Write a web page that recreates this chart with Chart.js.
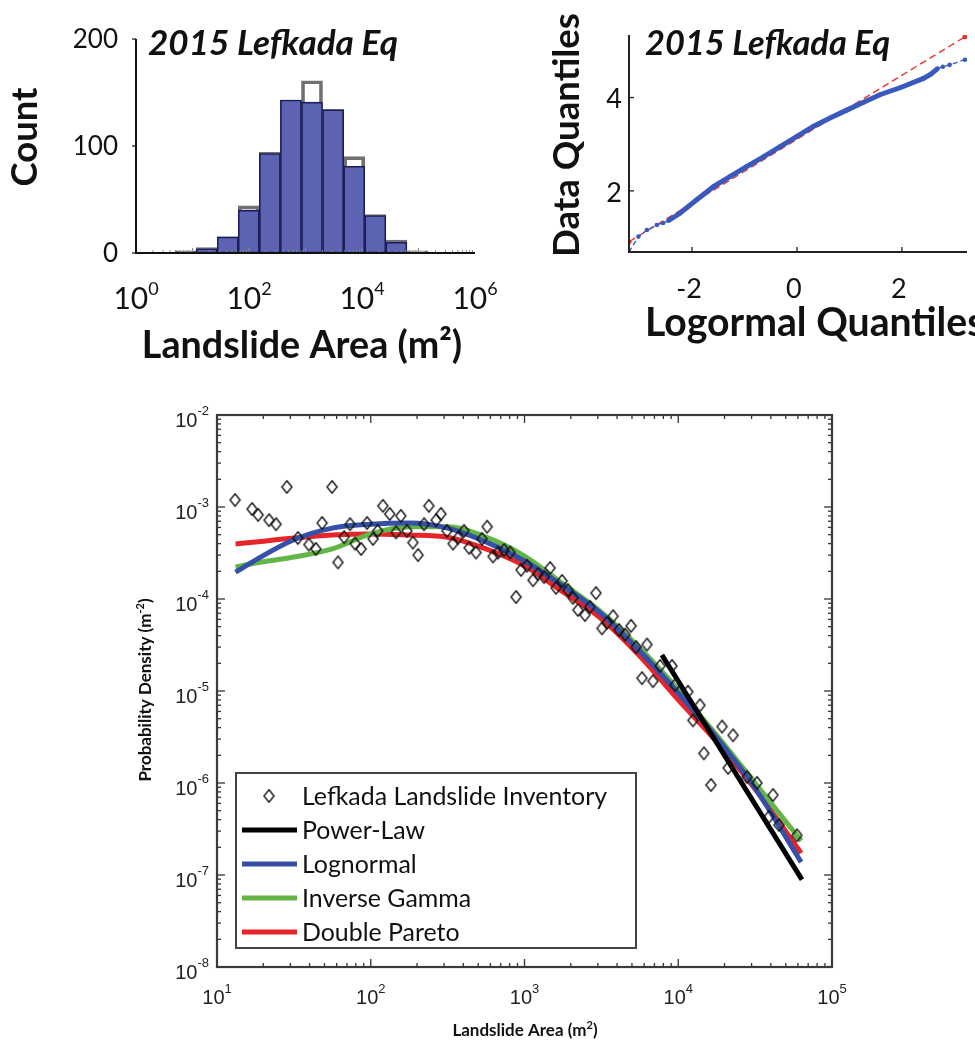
<!DOCTYPE html>
<html>
<head>
<meta charset="utf-8">
<script src="https://cdn.jsdelivr.net/npm/chart.js@4.4.1/dist/chart.umd.min.js"></script>
<style>
  html,body{margin:0;padding:0;background:#fff;}
  #page{position:relative;width:975px;height:1049px;overflow:hidden;background:#fff;}
  canvas{position:absolute;}
</style>
</head>
<body>
<div id="page">
  <canvas id="chartHist" width="500" height="380" style="left:0;top:0"></canvas>
  <canvas id="chartQQ" width="475" height="380" style="left:500px;top:0"></canvas>
  <canvas id="chartPdf" width="975" height="669" style="left:0;top:380px"></canvas>
</div>
<script>
// ---- histogram (bin centres in m², counts) ----
const HIST_AREA = [7.55, 17.8, 42.1, 99.1, 234, 552, 1303, 3083, 7278, 17180, 40550, 95500];
const HIST_COUNT = [1, 4, 15, 40, 93, 143, 141, 134, 81, 35, 10, 0];
const HIST_COUNT_ALT = [2, 5, 15, 44, 94, 143, 161, 134, 90, 36, 12, 2];
const HIST_Y_TICKS = [0, 100, 200];
const HIST_X_EXPS = [0, 2, 4, 6];

// ---- QQ plot ----
const QQ_NORM = [-3.20,-3.02,-2.86,-2.67,-2.55,-2.45,-2.23,-1.91,-1.59,-1.27,-0.96,-0.64,-0.32,0.0,0.31,0.63,0.95,1.27,1.58,1.99,2.41,2.55,2.68,2.78,2.91,3.20];
const QQ_DATA = [0.69,1.02,1.16,1.27,1.31,1.36,1.52,1.81,2.09,2.31,2.52,2.73,2.95,3.17,3.38,3.56,3.73,3.90,4.06,4.22,4.41,4.50,4.62,4.66,4.70,4.81];
const QQ_REF_X = [-3.20, 3.20];
const QQ_REF_Y = [0.91, 5.30];
const QQ_X_TICKS = [-2, 0, 2];
const QQ_Y_TICKS = [2, 4];

// ---- probability density (m², m⁻²) ----
const INV_AREA = [13.1,16.9,18.5,21.8,24.2,28.5,33.6,39.6,44.0,48.2,56.0,61.2,67.0,73.3,79.0,86.5,94.6,103.5,111,120,
  133,146,157,172,188,203,222,239,266,286,313,343,369,404,436,484,529,571,624,673,
  736,805,881,949,1038,1136,1224,1340,1466,1603,1754,1918,2067,2228,2473,2665,2917,3190,3440,3765,
  4120,4508,4932,5312,5810,6260,6850,7610,9100,9530,11560,12470,13840,14690,16320,19270,21090,22720,27980,32510,
  38900,41300,45200,59200];
const INV_PDF = [1.19e-3,9.5e-4,8.2e-4,7.2e-4,6.5e-4,1.65e-3,4.6e-4,3.9e-4,3.5e-4,6.7e-4,
  1.65e-3,2.5e-4,4.7e-4,6.5e-4,4.0e-4,3.5e-4,6.7e-4,4.5e-4,5.5e-4,1.03e-3,
  8.4e-4,5.3e-4,8.0e-4,5.5e-4,4.1e-4,3.0e-4,6.5e-4,1.03e-3,7.2e-4,8.4e-4,
  5.5e-4,4.0e-4,4.6e-4,5.5e-4,3.6e-4,3.2e-4,4.5e-4,6.1e-4,2.9e-4,3.2e-4,
  3.4e-4,3.2e-4,1.05e-4,2.07e-4,2.3e-4,1.6e-4,1.87e-4,1.73e-4,2.17e-4,1.32e-4,
  1.57e-4,1.25e-4,1.03e-4,7.6e-5,6.7e-5,8.2e-5,1.16e-4,4.8e-5,5.5e-5,6.5e-5,
  4.6e-5,4.1e-5,5.1e-5,3.0e-5,1.38e-5,3.2e-5,1.28e-5,1.87e-5,1.87e-5,1.16e-5,
  9.8e-6,4.8e-6,7.0e-6,2.1e-6,9.5e-7,4.1e-6,1.46e-6,3.3e-6,1.16e-6,1.0e-6,
  4.3e-7,7.4e-7,3.5e-7,2.7e-7];
const FIT_AREA = [13.2,17.8,31.6,56.2,100,178,316,562,1000,1780,3160,5620,10000,17800,31600,63000];
const FIT_LOGNORMAL = [1.96e-4,2.65e-4,4.4e-4,5.9e-4,6.5e-4,6.7e-4,5.9e-4,4.17e-4,2.59e-4,1.38e-4,6.9e-5,2.72e-5,9.5e-6,3.1e-6,8.8e-7,1.38e-7];
const FIT_INVGAMMA = [2.23e-4,2.46e-4,2.86e-4,3.5e-4,5.1e-4,6.1e-4,6.1e-4,4.7e-4,2.93e-4,1.46e-4,7.2e-5,2.93e-5,1.03e-5,3.3e-6,1.0e-6,2.35e-7];
const FIT_DPARETO = [3.96e-4,4.17e-4,4.6e-4,4.96e-4,5.1e-4,4.96e-4,4.7e-4,3.5e-4,2.29e-4,1.19e-4,6.1e-5,2.4e-5,8.0e-6,2.8e-6,8.6e-7,1.73e-7];
const POWER_AREA = [7830, 63800];
const POWER_PDF = [2.46e-5, 8.9e-8];
const PDF_X_EXPS = [1, 2, 3, 4, 5];
const PDF_Y_EXPS = [-8, -7, -6, -5, -4, -3, -2];

const C = { histFill:"#5c63b3", histEdge:"#1b1d57", histGray:"#707070", qqBlue:"#3a59bd", qqRed:"#e8332a",
  black:"#000", blue:"#3450a8", green:"#63b546", red:"#e5252a", axis:"#333", ink:"#111" };
const SANS = "Lato, 'Open Sans', sans-serif";
const ARIAL = "'Liberation Sans', Arial, sans-serif";

const pts = (xs, ys) => xs.map((x,i)=>({ x, y: ys[i] }));

function fitFont(ctx, text, style, family, width){
  ctx.font = `${style} 100px ${family}`;
  const s = 100 * width / ctx.measureText(text).width;
  ctx.font = `${style} ${s.toFixed(1)}px ${family}`;
}
// parts: [text, font, dy]
function richText(ctx, parts, x, y, align){
  let w = 0;
  parts.forEach(p=>{ ctx.font = p[1]; w += ctx.measureText(p[0]).width; });
  let cx = align==="center" ? x - w/2 : align==="right" ? x - w : x;
  ctx.textAlign = "left"; ctx.textBaseline = "alphabetic";
  parts.forEach(p=>{ ctx.font = p[1]; ctx.fillText(p[0], cx, y + (p[2]||0)); cx += ctx.measureText(p[0]).width; });
}
function seg(ctx, x1, y1, x2, y2){ ctx.beginPath(); ctx.moveTo(x1,y1); ctx.lineTo(x2,y2); ctx.stroke(); }
function rotatedText(ctx, text, x, y){
  ctx.save(); ctx.translate(x, y); ctx.rotate(-Math.PI/2);
  ctx.textAlign = "center"; ctx.textBaseline = "middle"; ctx.fillText(text, 0, 0); ctx.restore();
}
function diamondMarker(w, h, color, lw){
  const c = document.createElement("canvas");
  c.width = Math.ceil(w + 2*lw); c.height = Math.ceil(h + 2*lw);
  const g = c.getContext("2d"), cx = c.width/2, cy = c.height/2;
  g.strokeStyle = color; g.lineWidth = lw;
  g.beginPath(); g.moveTo(cx, cy-h/2); g.lineTo(cx+w/2, cy); g.lineTo(cx, cy+h/2); g.lineTo(cx-w/2, cy); g.closePath(); g.stroke();
  return c;
}

const baseOpts = { responsive:false, animation:false, plugins:{ legend:{ display:false }, tooltip:{ enabled:false } } };

// ---------------- histogram ----------------
const histDecor = {
  id:"histDecor",
  afterDatasetsDraw(chart){
    const { ctx, chartArea:a, scales:{ x, y } } = chart;
    ctx.save();
    ctx.strokeStyle = "#888"; ctx.lineWidth = 1;
    for(let e=0;e<6;e++) for(let m=1;m<=9;m++){
      const px = x.getPixelForValue(m*10**e);
      seg(ctx, px, a.bottom, px, a.bottom-(m===1?5:3));
    }
    ctx.strokeStyle = "#111"; ctx.lineWidth = 2;
    seg(ctx, a.left, a.top, a.left, a.bottom+1);
    seg(ctx, a.left-1, a.bottom, a.right, a.bottom);
    ctx.lineWidth = 1.2;
    HIST_Y_TICKS.forEach(v=>{ const py = y.getPixelForValue(v); seg(ctx, a.left-4, py, a.left, py); });
    ctx.fillStyle = C.ink;
    ctx.font = `26px ${SANS}`; ctx.textAlign = "right"; ctx.textBaseline = "middle";
    HIST_Y_TICKS.forEach(v=> ctx.fillText(String(v), 118, y.getPixelForValue(v)+1));
    HIST_X_EXPS.forEach(e=> richText(ctx, [["10", `30px ${SANS}`], [String(e), `18px ${SANS}`, -14]], x.getPixelForValue(10**e), 309, "center"));
    fitFont(ctx, "2015 Lefkada Eq", "italic bold", SANS, 250);
    ctx.textAlign = "left"; ctx.textBaseline = "alphabetic"; ctx.fillText("2015 Lefkada Eq", 148, 55);
    fitFont(ctx, "Count", "bold", SANS, 99);
    rotatedText(ctx, "Count", 25, 137);
    fitFont(ctx, "Landslide Area (m²)", "bold", SANS, 320);
    ctx.textAlign = "center"; ctx.textBaseline = "alphabetic"; ctx.fillText("Landslide Area (m²)", 302, 358);
    ctx.restore();
  }
};
const histBarW = 339 * Math.log10(HIST_AREA[1]/HIST_AREA[0]) / 6;
new Chart(document.getElementById("chartHist"), {
  type:"bar",
  data:{ datasets:[
    { label:"Lefkada", data:pts(HIST_AREA, HIST_COUNT), backgroundColor:C.histFill, borderColor:C.histEdge, borderWidth:1.6,
      borderSkipped:false, grouped:false, barThickness:histBarW },
    { label:"Comparison", data:pts(HIST_AREA, HIST_COUNT_ALT), backgroundColor:"rgba(0,0,0,0)", borderColor:C.histGray, borderWidth:3,
      borderSkipped:false, grouped:false, barThickness:histBarW },
  ]},
  options:{ ...baseOpts, layout:{ padding:{ left:136, right:25, top:39, bottom:127 } },
    scales:{ x:{ type:"logarithmic", min:1, max:1e6, display:false }, y:{ min:0, max:200, display:false } } },
  plugins:[histDecor]
});

// ---------------- QQ plot ----------------
const qqDecor = {
  id:"qqDecor",
  afterDatasetsDraw(chart){
    const { ctx, chartArea:a, scales:{ x, y } } = chart;
    ctx.save();
    ctx.strokeStyle = "#222"; ctx.lineWidth = 2;
    seg(ctx, a.left, a.top, a.left, a.bottom+1);
    seg(ctx, a.left-1, a.bottom, a.right, a.bottom);
    ctx.lineWidth = 1.3;
    QQ_X_TICKS.forEach(v=>{ const px = x.getPixelForValue(v); seg(ctx, px, a.bottom, px, a.bottom-5); });
    QQ_Y_TICKS.forEach(v=>{ const py = y.getPixelForValue(v); seg(ctx, a.left, py, a.left+5, py); });
    ctx.fillStyle = C.ink; ctx.font = `27px ${SANS}`;
    ctx.textAlign = "right"; ctx.textBaseline = "middle";
    QQ_Y_TICKS.forEach(v=> ctx.fillText(String(v), 122, y.getPixelForValue(v)+2));
    ctx.textAlign = "center";
    QQ_X_TICKS.forEach(v=> ctx.fillText(v<0 ? "-"+Math.abs(v) : String(v), x.getPixelForValue(v)-3, 289));
    fitFont(ctx, "2015 Lefkada Eq", "italic bold", SANS, 245);
    ctx.textAlign = "left"; ctx.textBaseline = "alphabetic"; ctx.fillText("2015 Lefkada Eq", 145, 55);
    fitFont(ctx, "Data Quantiles", "bold", SANS, 244);
    rotatedText(ctx, "Data Quantiles", 67, 135);
    fitFont(ctx, "Logormal Quantiles", "bold", SANS, 340);
    ctx.textAlign = "left"; ctx.textBaseline = "alphabetic"; ctx.fillText("Logormal Quantiles", 145, 336);
    ctx.restore();
  }
};
const thinEnd = c => (c.p0.parsed.x < -2.5 || c.p1.parsed.x > 2.7);
new Chart(document.getElementById("chartQQ"), {
  type:"line",
  data:{ datasets:[
    { label:"Data", data:pts(QQ_NORM, QQ_DATA), borderColor:C.qqBlue, backgroundColor:C.qqBlue, borderWidth:5,
      pointRadius:2.3, pointBorderWidth:0, tension:0,
      segment:{ borderWidth:c=> thinEnd(c) ? 1.3 : 5, borderDash:c=> thinEnd(c) ? [5,3] : undefined } },
    { label:"Reference", data:pts(QQ_REF_X, QQ_REF_Y), borderColor:C.qqRed, backgroundColor:C.qqRed, borderWidth:1.4,
      borderDash:[7,4], pointRadius:2.5, pointBorderWidth:0 },
  ]},
  options:{ ...baseOpts, layout:{ padding:{ left:129, right:8, top:35, bottom:128 } },
    scales:{ x:{ type:"linear", min:-3.2, max:3.24, display:false }, y:{ type:"linear", min:0.69, max:5.34, display:false } } },
  plugins:[qqDecor]
});

// ---------------- probability density ----------------
const diamond = diamondMarker(10, 12.5, C.ink, 1.4);
const pdfDecor = {
  id:"pdfDecor",
  afterDatasetsDraw(chart){
    const { ctx, chartArea:a, scales:{ x, y } } = chart;
    ctx.save();
    ctx.strokeStyle = C.axis; ctx.lineWidth = 1.3;
    for(let e=PDF_X_EXPS[0]; e<PDF_X_EXPS[PDF_X_EXPS.length-1]; e++) for(let m=1;m<=9;m++){
      const px = x.getPixelForValue(m*10**e), len = m===1 ? 8 : 4;
      seg(ctx, px, a.bottom, px, a.bottom-len); seg(ctx, px, a.top, px, a.top+len);
    }
    for(let e=PDF_Y_EXPS[0]; e<PDF_Y_EXPS[PDF_Y_EXPS.length-1]; e++) for(let m=1;m<=9;m++){
      const py = y.getPixelForValue(m*10**e), len = m===1 ? 8 : 4;
      seg(ctx, a.left, py, a.left+len, py); seg(ctx, a.right, py, a.right-len, py);
    }
    ctx.lineWidth = 2.2; ctx.strokeStyle = "#3a3a3a";
    ctx.strokeRect(a.left, a.top, a.right-a.left, a.bottom-a.top);

    ctx.fillStyle = "#222";
    PDF_Y_EXPS.forEach(e=> richText(ctx, [["10", `20px ${ARIAL}`], [String(e), `13px ${ARIAL}`, -12]], 209, y.getPixelForValue(10**e)+12, "right"));
    PDF_X_EXPS.forEach(e=> richText(ctx, [["10", `20px ${ARIAL}`], [String(e), `13px ${ARIAL}`, -11]], x.getPixelForValue(10**e), 624, "center"));

    ctx.fillStyle = C.ink;
    const tb = `bold 17px ${SANS}`, ts = `bold 11px ${SANS}`;
    richText(ctx, [["Landslide Area (m", tb], ["2", ts, -7], [")", tb]], 525, 656, "center");
    ctx.save(); ctx.translate(151, 310); ctx.rotate(-Math.PI/2);
    richText(ctx, [["Probability Density (m", tb], ["-2", ts, -7], [")", tb]], 0, 0, "center");
    ctx.restore();

    // legend box
    const L = { x:236, y:393, w:400, h:175 };
    ctx.fillStyle = "#fff"; ctx.fillRect(L.x, L.y, L.w, L.h);
    ctx.strokeStyle = "#444"; ctx.lineWidth = 2; ctx.strokeRect(L.x, L.y, L.w, L.h);
    fitFont(ctx, chart.data.datasets[0].label, "normal", SANS, 305);
    const lf = ctx.font;
    chart.data.datasets.forEach((ds, i)=>{
      const cy = L.y + 23 + i*34;
      if(i===0){ ctx.drawImage(diamond, 269-diamond.width/2, cy-diamond.height/2); }
      else { ctx.strokeStyle = ds.borderColor; ctx.lineWidth = 5; seg(ctx, 242, cy, 297, cy); }
      ctx.fillStyle = C.ink; ctx.font = lf; ctx.textAlign = "left"; ctx.textBaseline = "middle";
      ctx.fillText(ds.label, 302, cy+1);
    });
    ctx.restore();
  }
};
const fitLine = (label, xs, ys, color) => ({ label, data:pts(xs, ys), borderColor:color, backgroundColor:color, borderWidth:5,
  pointRadius:0, cubicInterpolationMode:"monotone" });
new Chart(document.getElementById("chartPdf"), {
  type:"line",
  data:{ datasets:[
    { label:"Lefkada Landslide Inventory", data:pts(INV_AREA, INV_PDF), showLine:false, pointStyle:diamond, pointRadius:6,
      borderColor:C.ink, backgroundColor:"rgba(0,0,0,0)" },
    fitLine("Power-Law", POWER_AREA, POWER_PDF, C.black),
    fitLine("Lognormal", FIT_AREA, FIT_LOGNORMAL, C.blue),
    fitLine("Inverse Gamma", FIT_AREA, FIT_INVGAMMA, C.green),
    fitLine("Double Pareto", FIT_AREA, FIT_DPARETO, C.red),
  ]},
  options:{ ...baseOpts, layout:{ padding:{ left:217, right:143, top:35, bottom:82 } },
    scales:{ x:{ type:"logarithmic", min:10, max:1e5, display:false }, y:{ type:"logarithmic", min:1e-8, max:1e-2, display:false } } },
  plugins:[pdfDecor]
});
</script>
</body>
</html>
